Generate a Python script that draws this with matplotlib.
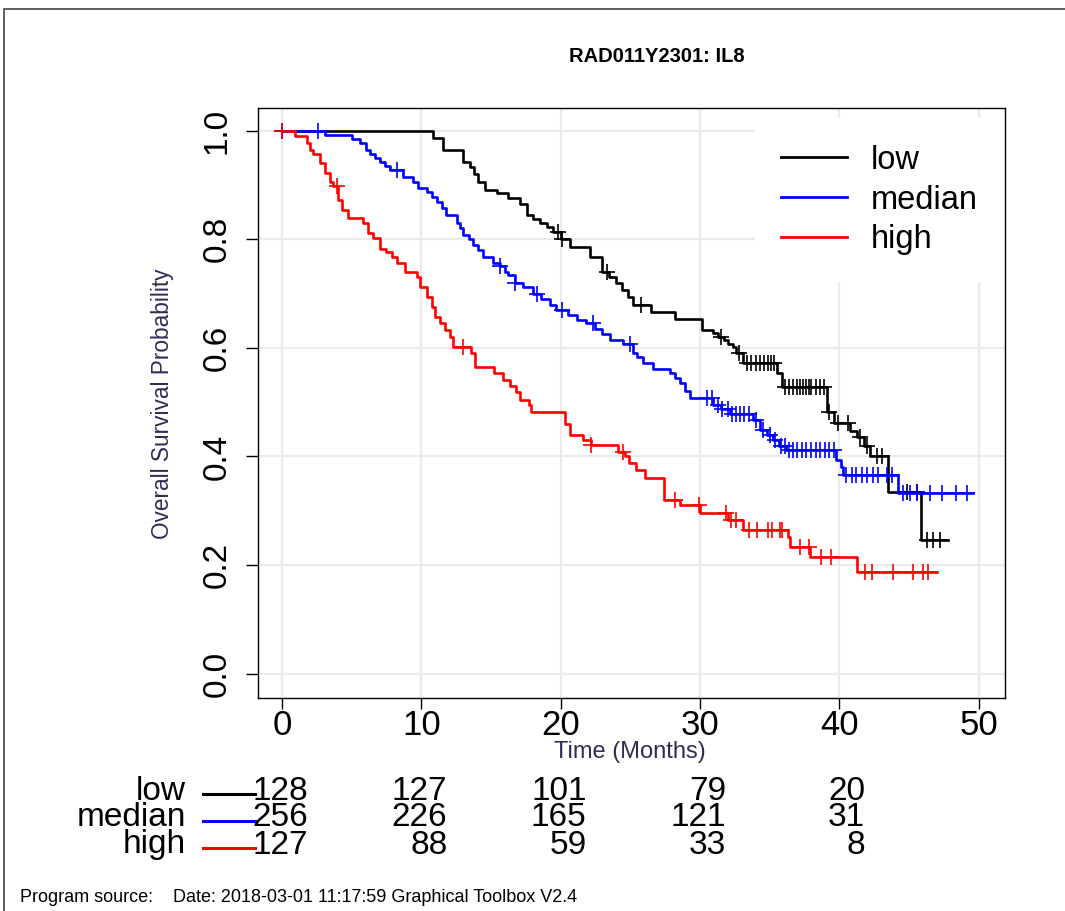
import numpy as np
import matplotlib
matplotlib.use("Agg")
import matplotlib.pyplot as plt
from matplotlib.patches import Rectangle
import matplotlib.transforms as mtransforms

# ---------------- data ----------------
title = "RAD011Y2301: IL8"
group_names = ["low", "median", "high"]
group_colors = ["#000000", "#0000FF", "#FF0000"]

low_t = [0, 10.86, 11.58, 13.0, 13.5, 13.8, 14.1, 14.57, 15.4, 16.2, 17.1, 17.57, 18.0, 18.5, 19.0,
         19.48, 20.0, 20.67, 22.1, 22.95, 23.5, 24.0, 24.4, 24.86, 25.2, 26.5, 28.2, 30.13, 30.96,
         31.3, 31.7, 32.0, 32.4, 32.6, 33.1, 35.5, 35.9, 39.1, 39.6, 40.8, 41.3, 41.8, 42.2, 43.5, 45.9]
low_s = [1.0, 0.986, 0.965, 0.943, 0.934, 0.92, 0.906, 0.891, 0.885, 0.876, 0.866, 0.845, 0.838, 0.83, 0.822,
         0.814, 0.80, 0.786, 0.768, 0.74, 0.73, 0.719, 0.707, 0.694, 0.679, 0.667, 0.654, 0.633, 0.627,
         0.62, 0.615, 0.608, 0.602, 0.59, 0.572, 0.553, 0.528, 0.482, 0.461, 0.446, 0.436, 0.42, 0.40, 0.335, 0.246]
low_end = 47.8
low_cens = [19.84, 20.1, 23.3, 25.8, 31.5, 32.8, 33.4, 33.7, 34.0, 34.3, 34.6, 34.9, 35.1, 35.3,
            36.1, 36.4, 36.7, 37.0, 37.2, 37.4, 37.6, 37.8, 38.0, 38.3, 38.6, 38.9, 39.3,
            39.9, 40.6, 41.5, 42.0, 42.7, 43.1, 44.9, 45.6, 46.3, 46.75, 47.2]

med_t = [0, 3.1, 5.0, 5.6, 6.0, 6.3, 6.7, 7.03, 7.4, 7.75, 8.7, 9.43, 9.8, 10.4, 10.8, 11.1, 11.5, 11.8,
         12.54, 12.8, 13.0, 13.4, 13.73, 14.1, 14.45, 15.17, 15.65, 16.0, 16.25, 16.73, 17.3, 18.04, 18.6,
         19.24, 19.7, 20.5, 21.15, 21.8, 22.5, 23.0, 23.55, 24.5, 25.2, 25.46, 25.94, 26.65, 27.85, 28.2,
         28.57, 28.9, 29.3, 30.96, 31.5, 32.16, 33.8, 34.3, 34.8, 35.27, 35.7, 36.2, 39.8, 40.1, 40.3, 44.25]
med_s = [1.0, 0.992, 0.985, 0.977, 0.965, 0.958, 0.95, 0.943, 0.935, 0.928, 0.915, 0.906, 0.894, 0.888, 0.878,
         0.869, 0.857, 0.845, 0.83, 0.82, 0.808, 0.80, 0.79, 0.78, 0.768, 0.756, 0.75, 0.74, 0.734, 0.72, 0.712,
         0.70, 0.69, 0.679, 0.67, 0.66, 0.651, 0.645, 0.635, 0.625, 0.615, 0.608, 0.59, 0.584, 0.572, 0.562,
         0.553, 0.545, 0.535, 0.52, 0.507, 0.495, 0.487, 0.479, 0.467, 0.449, 0.44, 0.43, 0.42, 0.412, 0.393,
         0.38, 0.366, 0.332]
med_end = 49.6
med_cens = [0, 2.6, 8.23, 15.65, 16.73, 18.28, 20.08, 22.35, 25.0, 30.5, 30.9, 31.3, 31.6, 32.0, 32.3,
            32.6, 32.9, 33.2, 33.5, 34.0, 34.5, 35.0, 35.4, 35.8, 36.1, 36.4, 36.7, 37.0, 37.3, 37.6,
            38.0, 38.3, 38.6, 39.0, 39.3, 39.6, 40.5, 40.9, 41.2, 41.6, 42.0, 42.4, 42.8, 43.4, 43.8,
            44.6, 45.1, 45.6, 46.5, 47.4, 48.4, 49.15]

high_t = [0, 0.93, 1.77, 2.0, 2.25, 2.73, 3.09, 3.45, 3.68, 4.04, 4.28, 4.76, 5.84, 6.2, 6.55, 7.03, 7.5,
          7.87, 8.23, 8.83, 9.67, 9.9, 10.4, 10.75, 10.98, 11.34, 11.7, 12.06, 12.3, 13.6, 13.83, 15.2,
          15.9, 16.4, 16.8, 17.1, 17.7, 17.9, 20.3, 20.65, 21.6, 22.2, 24.1, 24.6, 24.9, 25.4, 26.06,
          27.4, 28.6, 30.0, 32.0, 33.1, 36.35, 36.47, 37.9, 41.26]
high_s = [1.0, 0.99, 0.977, 0.965, 0.958, 0.94, 0.922, 0.906, 0.898, 0.872, 0.854, 0.839, 0.83, 0.811, 0.802,
          0.783, 0.777, 0.768, 0.756, 0.74, 0.731, 0.713, 0.694, 0.676, 0.657, 0.645, 0.633, 0.62, 0.602,
          0.59, 0.565, 0.553, 0.541, 0.530, 0.519, 0.504, 0.495, 0.482, 0.46, 0.439, 0.43, 0.421, 0.409,
          0.40, 0.388, 0.375, 0.36, 0.32, 0.31, 0.295, 0.283, 0.264, 0.252, 0.234, 0.215, 0.188]
high_end = 47.0
high_cens = [0, 3.93, 13.0, 22.2, 24.5, 28.2, 29.9, 31.9, 32.2, 32.6, 33.5, 34.1, 34.9, 35.2, 35.75,
             35.9, 37.2, 37.8, 38.7, 39.4, 41.85, 42.33, 43.89, 45.32, 46.04, 46.4]

risk_times = [0, 10, 20, 30, 40]
risk_low = [128, 127, 101, 79, 20]
risk_median = [256, 226, 165, 121, 31]
risk_high = [127, 88, 59, 33, 8]

xticks = [0, 10, 20, 30, 40, 50]
yticks = [0.0, 0.2, 0.4, 0.6, 0.8, 1.0]
xlabel = "Time (Months)"
ylabel = "Overall Survival Probability"
footer = "Program source:    Date: 2018-03-01 11:17:59 Graphical Toolbox V2.4"

# ---------------- drawing ----------------
NARROW = ["Liberation Sans Narrow", "Liberation Sans", "DejaVu Sans"]
REG = ["Liberation Sans", "DejaVu Sans"]
W, H = 1065, 911
fig = plt.figure(figsize=(W / 100, H / 100), dpi=100)
fig.patch.set_facecolor("white")

# outer frame
fig.patches.append(Rectangle((4 / W, -0.01), 1.02, 1 - 9 / H + 0.01, transform=fig.transFigure,
                             fill=False, edgecolor="#444444", linewidth=1.2))

ax = fig.add_axes([258 / W, 1 - 698 / H, (1005 - 258) / W, (698 - 108) / H])
ax.set_xlim(-1.72, 51.9)
ax.set_ylim(-0.045, 1.042)
ax.set_xticks(xticks)
ax.set_yticks(yticks)
ax.grid(True, color="#EBEBEB", linewidth=1.6)
ax.set_axisbelow(True)
for sp in ax.spines.values():
    sp.set_linewidth(1.0)
    sp.set_color("#000000")
    sp.set_zorder(6)

ax.tick_params(axis="x", length=8, width=1, pad=0, labelsize=25)
ax.tick_params(axis="y", length=9, width=1, pad=9, labelsize=24)
ax.set_xticklabels([str(v) for v in xticks], family=NARROW)
ax.set_yticklabels([f"{v:.1f}" for v in yticks], family=NARROW, rotation=90, va="center")

curves = [(low_t, low_s, low_end, low_cens), (med_t, med_s, med_end, med_cens),
          (high_t, high_s, high_end, high_cens)]
handles = []
for (tt, ss, tend, cens), col, name in zip(curves, group_colors, group_names):
    tt = np.asarray(tt, float)
    ss = np.asarray(ss, float)
    x = np.append(tt, tend)
    y = np.append(ss, ss[-1])
    h, = ax.step(x, y, where="post", color=col, linewidth=1.9, label=name, zorder=3)
    handles.append(h)
    c = np.asarray(cens, float)
    idx = np.searchsorted(tt, c, side="right") - 1
    ax.plot(c, ss[idx], linestyle="none", marker="+", markersize=12, markeredgewidth=1.2,
            color=col, zorder=4)

leg = ax.legend(handles=handles, loc="upper right", bbox_to_anchor=(1.0, 1 - 10 / 590),
                prop={"family": REG, "size": 23.5}, frameon=True, fancybox=False,
                facecolor="white", edgecolor="none", framealpha=1.0,
                handlelength=2.0, handletextpad=0.75, labelspacing=0.27, borderpad=0.82,
                borderaxespad=0.0)
for lh in leg.get_lines():
    lh.set_linewidth(2.0)
leg.set_zorder(5)

# title and axis labels
fig.text(657 / W, 1 - 57 / H, title, ha="center", va="center", fontsize=14.5, fontweight="bold",
         family=NARROW)
fig.text(630 / W, 1 - 752 / H, xlabel, ha="center", va="center", fontsize=17, family=NARROW,
         color="#332B55")
fig.text(162 / W, 1 - 404 / H, ylabel, ha="center", va="center", fontsize=16.3, family=NARROW,
         color="#332B55", rotation=90)

# number at risk table
row_y = [791, 818, 845]
risk_rows = [risk_low, risk_median, risk_high]
offs = mtransforms.offset_copy(ax.transData, fig=fig, x=26, y=0, units="dots")
blend = mtransforms.blended_transform_factory(offs, fig.transFigure)
for name, col, vals, yy in zip(group_names, group_colors, risk_rows, row_y):
    yf = 1 - yy / H
    fig.text(186 / W, yf, name, ha="right", va="center", fontsize=24, family=NARROW)
    fig.add_artist(plt.Line2D([203 / W, 255 / W], [1 - (yy + 3) / H] * 2, transform=fig.transFigure,
                              color=col, linewidth=2.2))
    for t, v in zip(risk_times, vals):
        fig.text(t, yf, str(v), ha="right", va="center", fontsize=24, family=NARROW,
                 transform=blend)

fig.text(20 / W, 1 - 897 / H, footer, ha="left", va="center", fontsize=13, family=NARROW)

fig.savefig("out.png", dpi=100, facecolor="white")
